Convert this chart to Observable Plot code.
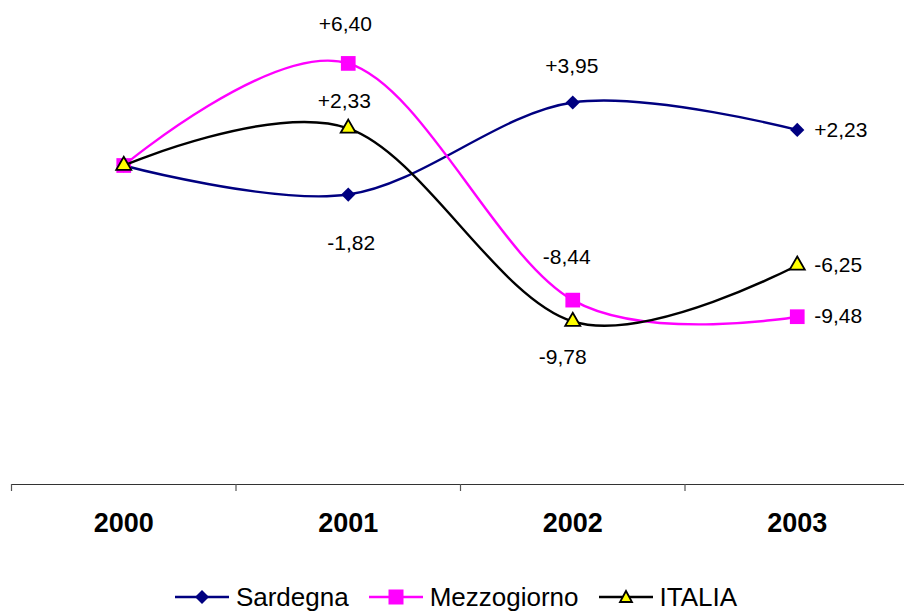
<!DOCTYPE html>
<html>
<head>
<meta charset="utf-8">
<script src="https://cdn.jsdelivr.net/npm/d3@7"></script>
<script src="https://cdn.jsdelivr.net/npm/@observablehq/plot@0.6"></script>
<style>
  html, body { margin: 0; padding: 0; background: #fff; }
  body { width: 904px; height: 612px; overflow: hidden; position: relative; font-family: "Liberation Sans", Arial, sans-serif; }
  #legend { position: absolute; left: 0; top: 584px; width: 904px; display: flex; justify-content: center; align-items: center; padding-left: 8px; box-sizing: border-box; font-size: 26px; line-height: 26px; color: #000; }
  #legend .item { display: flex; align-items: center; margin: 0 10px; }
  #legend svg { margin-right: 7px; }
</style>
</head>
<body>
<div id="chart"></div>
<div id="legend"></div>
<script>
const years = [2000, 2001, 2002, 2003];
const sardegna = [0, -1.82, 3.95, 2.23];
const mezzogiorno = [0, 6.40, -8.44, -9.48];
const italia = [0, 2.33, -9.78, -6.25];
const seriesNames = ["Sardegna", "Mezzogiorno", "ITALIA"];

const seriesValues = [sardegna, mezzogiorno, italia];
const colors = {Sardegna: "#000080", Mezzogiorno: "#FF00FF", ITALIA: "#000000"};

const rows = [];
seriesNames.forEach((s, i) => {
  years.forEach((y, j) => rows.push({series: s, year: y, value: seriesValues[i][j]}));
});

const fmt = v => (v > 0 ? "+" : "") + v.toFixed(2).replace(".", ",");

// label offsets (placement only)
const offs = {
  "Sardegna-2001": [3, 49], "Mezzogiorno-2001": [-3, -39], "ITALIA-2001": [-4, -27],
  "Sardegna-2002": [-1, -36], "Mezzogiorno-2002": [-6, -43], "ITALIA-2002": [-10, 36]
};
const midLabels = rows.filter(d => d.year === 2001 || d.year === 2002);
const endLabels = rows.filter(d => d.year === 2003);

const H = 575;
const marks = [
  Plot.ruleY([-20], {stroke: "#333", strokeWidth: 1.2}),
  Plot.axisX([1999.5, 2000.5, 2001.5, 2002.5, 2003.5], {tickSize: 7, tickFormat: () => "", label: null, stroke: "#555", strokeWidth: 1.2}),
  Plot.text(years, {x: d => d, frameAnchor: "bottom", dy: 39, lineAnchor: "middle", text: d => String(d), fontSize: 27, fontWeight: "bold", fill: "#000"})
];

const symbols = {Sardegna: ["diamond2", 6.4, "#000080", "#000080", 0], Mezzogiorno: ["square", 8.3, "#FF00FF", "#FF00FF", 0], ITALIA: ["triangle", 5.6, "#FFFF00", "#000", 1.8]};
seriesNames.forEach(s => {
  const data = rows.filter(d => d.series === s);
  marks.push(Plot.line(data, {x: "year", y: "value", stroke: colors[s], strokeWidth: 2.4, curve: "cardinal", tension: 0}));
  const [sym, r, fill, stroke, sw] = symbols[s];
  marks.push(Plot.dot(data, {x: "year", y: "value", symbol: () => sym, r, fill, stroke, strokeWidth: sw}));
});

midLabels.forEach(d => {
  const [dx, dy] = offs[d.series + "-" + d.year];
  marks.push(Plot.text([d], {x: "year", y: "value", text: d => fmt(d.value), dx, dy, lineAnchor: "middle", fontSize: 21, fill: "#000"}));
});
marks.push(Plot.text(endLabels, {x: "year", y: "value", text: d => fmt(d.value), dx: 17, textAnchor: "start", lineAnchor: "middle", fontSize: 21, fill: "#000"}));

const chart = Plot.plot({
  width: 904,
  height: H,
  marginLeft: 11,
  marginRight: 0,
  marginTop: 5.5,
  marginBottom: H - 484,
  style: {fontFamily: "Liberation Sans, Arial, sans-serif", background: "#fff", overflow: "visible"},
  x: {type: "linear", domain: [1999.5, 2003.5], range: [11, 909], axis: null, label: null},
  y: {domain: [-20, 10], axis: null, label: null},
  symbol: {type: "identity"},
  marks
});
document.getElementById("chart").appendChild(chart);

// legend
const legend = document.getElementById("legend");
const legSym = {
  Sardegna: `<path d="M27,-7 L34,0 L27,7 L20,0 Z" fill="#000080"/>`,
  Mezzogiorno: `<rect x="19.5" y="-7.5" width="15" height="15" fill="#FF00FF"/>`,
  ITALIA: `<path d="M27,-6 L33,5 L21,5 Z" fill="#FFFF00" stroke="#000" stroke-width="1.8"/>`
};
seriesNames.forEach(s => {
  const item = document.createElement("div");
  item.className = "item";
  item.innerHTML = `<svg width="54" height="20" viewBox="0 -10 54 20"><line x1="0" x2="54" y1="0" y2="0" stroke="${colors[s]}" stroke-width="2.4"/>${legSym[s]}</svg><span>${s}</span>`;
  legend.appendChild(item);
});
</script>
</body>
</html>
